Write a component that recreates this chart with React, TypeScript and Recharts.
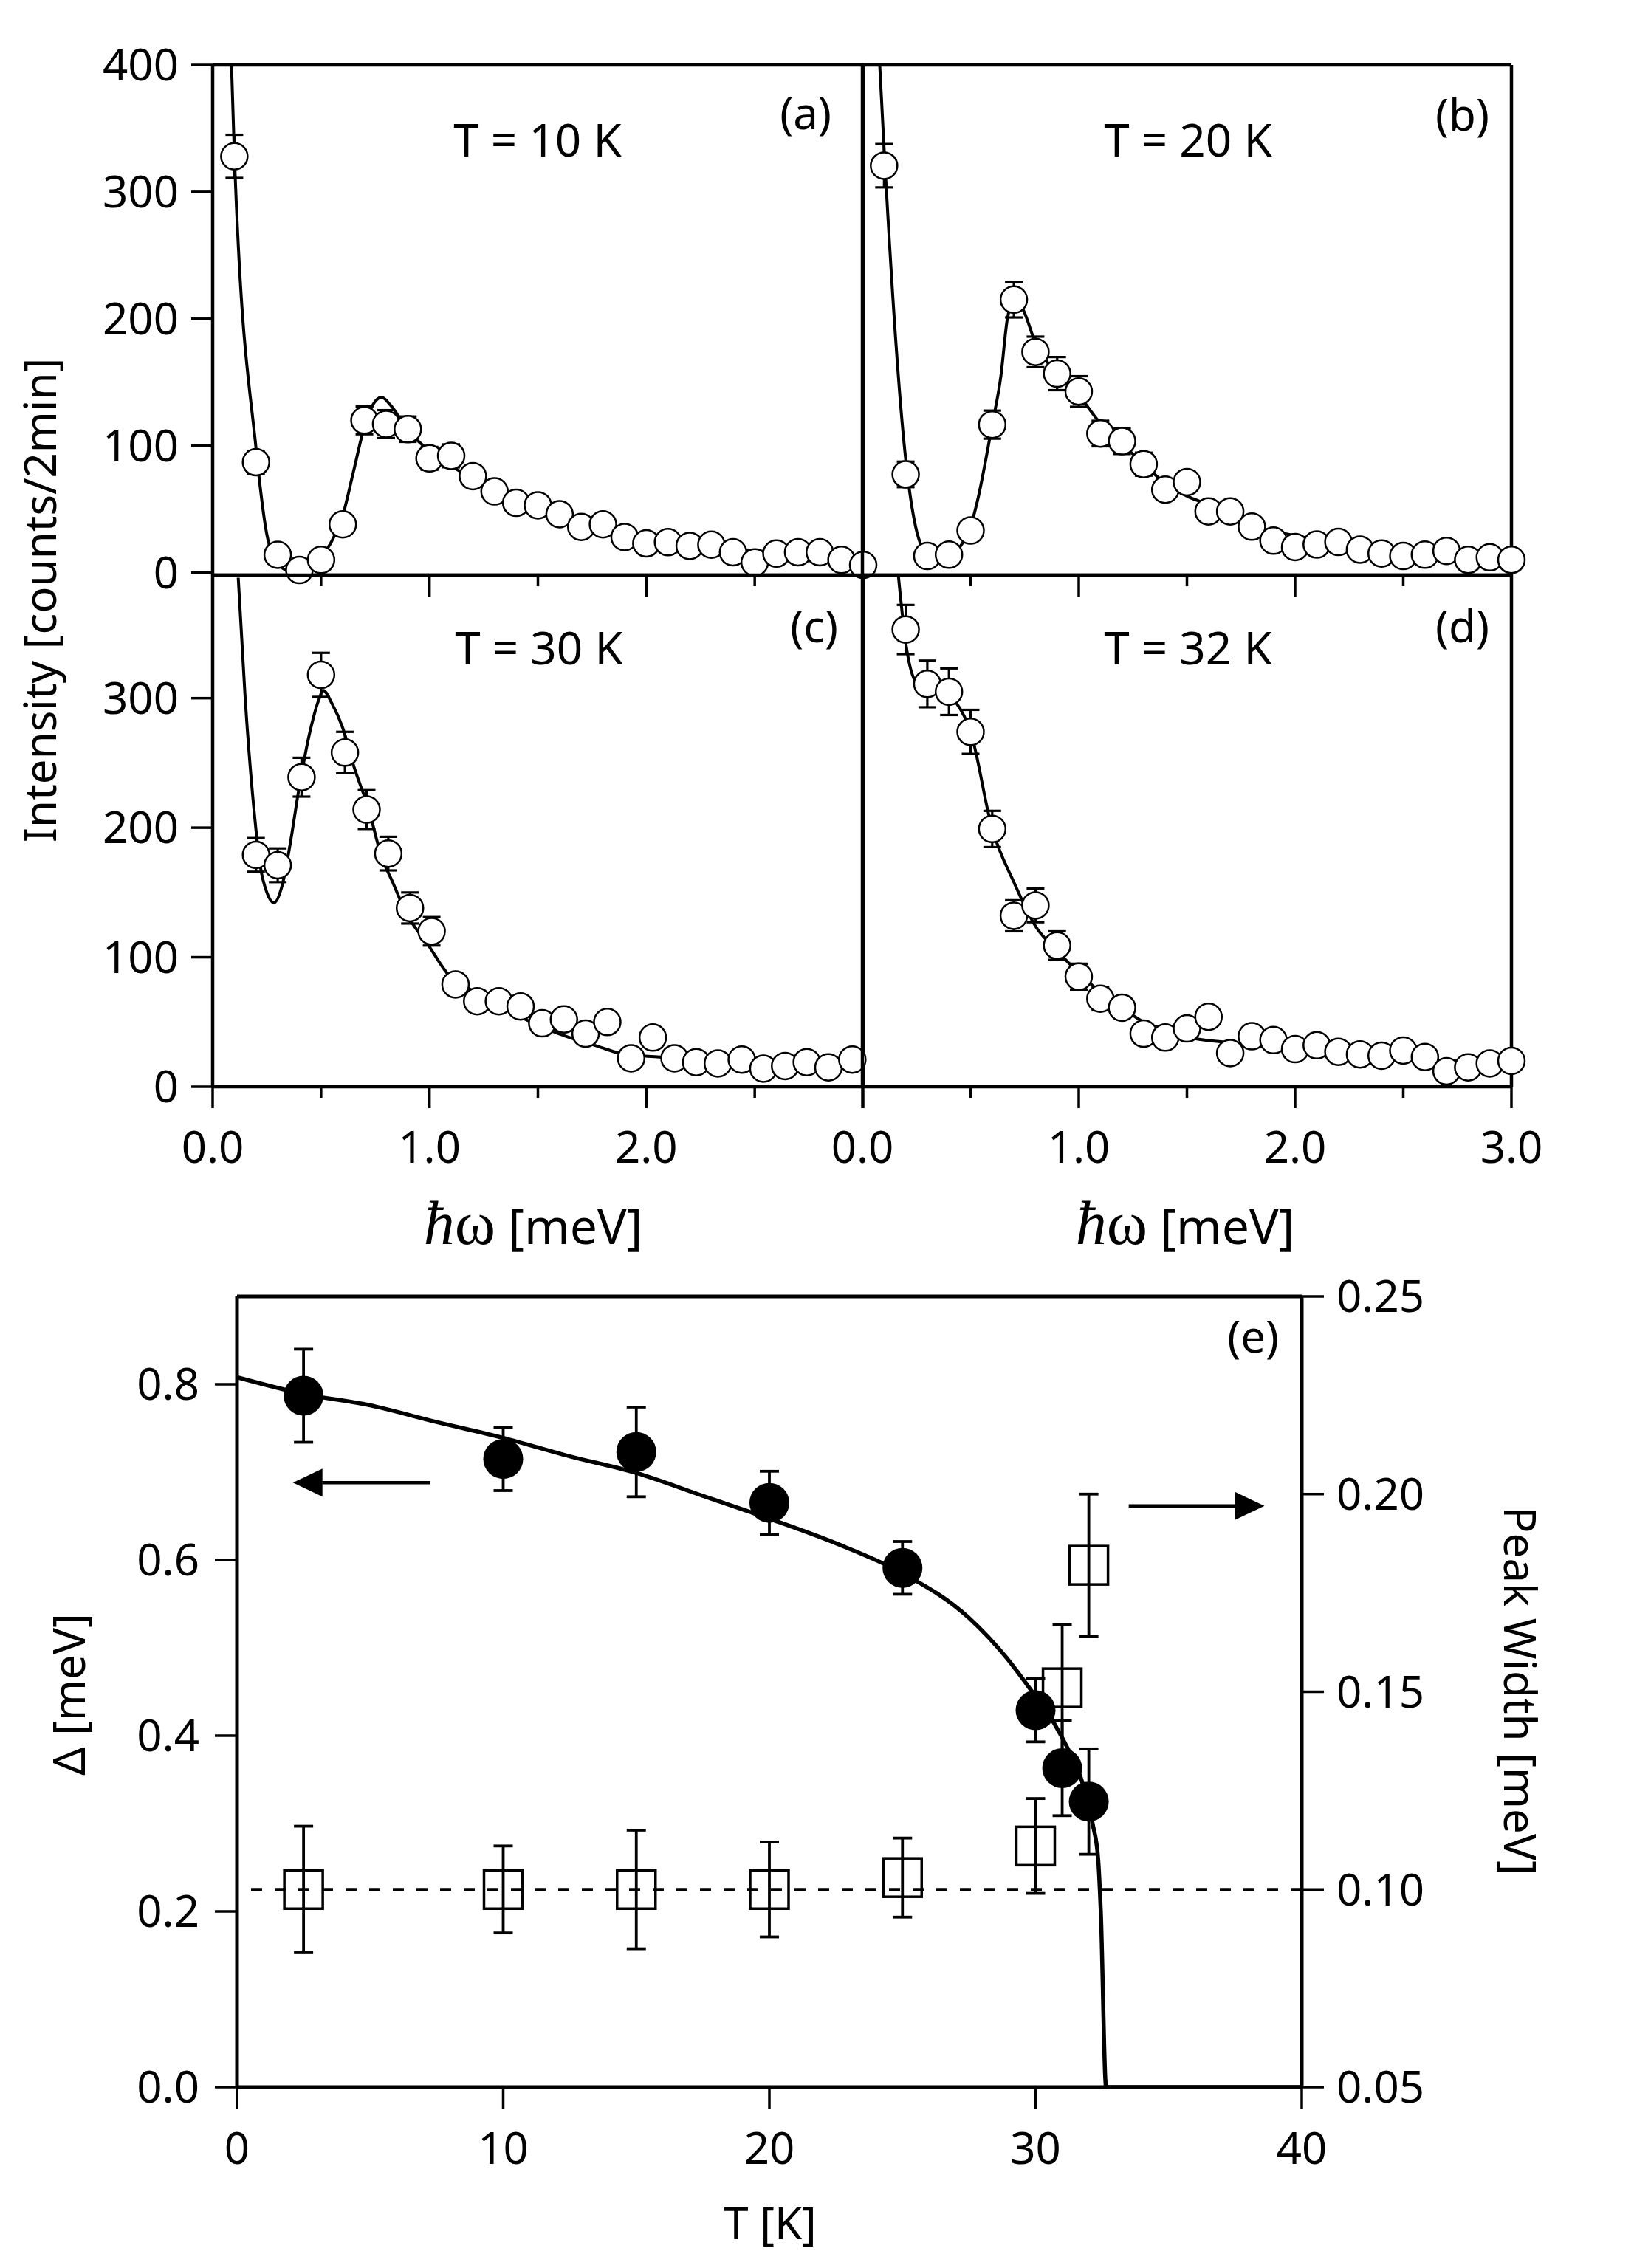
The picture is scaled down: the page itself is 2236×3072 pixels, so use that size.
import React from "react";
import {
  ComposedChart,
  Line,
  Scatter,
  XAxis,
  YAxis,
  ErrorBar,
  ReferenceLine,
  ReferenceDot,
} from "recharts";

const PAGE_W = 2236;
const PAGE_H = 3072;
const INK = "#000";
const SANS = "'Noto Sans', sans-serif";
const SERIF = "'Liberation Serif', serif";

// ---------- spectra (a)-(d): energy [meV], intensity [counts/2min] ----------
const energyA = [0.1, 0.2, 0.3, 0.4, 0.5, 0.6, 0.7, 0.8, 0.9, 1.0, 1.1, 1.2, 1.3, 1.4, 1.5, 1.6, 1.7, 1.8, 1.9, 2.0, 2.1, 2.2, 2.3, 2.4, 2.5, 2.6, 2.7, 2.8, 2.9, 3.0];
const countsA = [328, 87, 14, 2, 10, 38, 120, 117, 113, 90, 92, 76, 64, 55, 53, 46, 36, 38, 28, 23, 24, 21, 22, 16, 8, 15, 16, 16, 10, 6];
const errA = [17, 9, 5, 4, 5, 7, 11, 11, 10, 9, 9, 8, 7, 7, 7, 6, 6, 6, 5, 5, 5, 5, 5, 4, 4, 4, 4, 4, 4, 4];
const fitEnergyA = [0.087, 0.1, 0.2, 0.25, 0.3, 0.35, 0.4, 0.45, 0.5, 0.55, 0.6, 0.65, 0.7, 0.75, 0.78, 0.82, 0.9, 1.0, 1.1, 1.2, 1.3, 1.4, 1.5, 1.6, 1.8, 2.0, 2.2, 2.4, 2.6, 2.8, 3.0];
const fitCountsA = [400, 330, 98, 30, 8, 1, 0, 3, 12, 25, 45, 80, 115, 135, 138, 132, 112, 96, 84, 74, 65, 57, 50, 44, 35, 28, 23, 19, 16, 13, 11];

const energyB = [0.1, 0.2, 0.3, 0.4, 0.5, 0.6, 0.7, 0.8, 0.9, 1.0, 1.1, 1.2, 1.3, 1.4, 1.5, 1.6, 1.7, 1.8, 1.9, 2.0, 2.1, 2.2, 2.3, 2.4, 2.5, 2.6, 2.7, 2.8, 2.9, 3.0];
const countsB = [321, 79, 15, 16, 35, 118, 216, 175, 158, 144, 111, 105, 87, 67, 73, 50, 50, 38, 27, 22, 24, 26, 20, 17, 15, 16, 19, 12, 14, 12];
const errB = [17, 10, 5, 5, 7, 11, 14, 12, 13, 12, 10, 10, 9, 8, 8, 7, 7, 6, 6, 5, 5, 5, 5, 5, 4, 4, 4, 4, 4, 4];
const fitEnergyB = [0.08, 0.1, 0.2, 0.27, 0.33, 0.4, 0.45, 0.5, 0.53, 0.6, 0.64, 0.67, 0.7, 0.74, 0.8, 0.9, 1.0, 1.1, 1.2, 1.3, 1.4, 1.5, 1.6, 1.7, 1.8, 2.0, 2.2, 2.4, 2.6, 2.8, 3.0];
const fitCountsB = [400, 335, 91, 24, 12, 14, 22, 38, 57, 118, 156, 201, 215, 209, 182, 158, 141, 119, 103, 87, 72, 62, 55, 46, 39, 31, 25, 21, 18, 15, 13];

const energyC = [0.2, 0.3, 0.41, 0.5, 0.61, 0.71, 0.81, 0.91, 1.01, 1.12, 1.22, 1.32, 1.42, 1.52, 1.62, 1.72, 1.82, 1.93, 2.03, 2.13, 2.23, 2.33, 2.44, 2.54, 2.64, 2.74, 2.84, 2.95];
const countsC = [179, 171, 239, 318, 258, 214, 180, 138, 120, 79, 66, 66, 62, 49, 52, 41, 50, 22, 38, 22, 19, 18, 21, 14, 16, 19, 15, 21];
const errC = [13, 13, 15, 17, 16, 15, 13, 12, 11, 8, 8, 7, 7, 7, 7, 6, 6, 5, 6, 5, 5, 5, 5, 4, 4, 5, 4, 5];
const fitEnergyC = [0.118, 0.15, 0.19, 0.22, 0.25, 0.283, 0.32, 0.355, 0.4, 0.45, 0.49, 0.51, 0.55, 0.6, 0.65, 0.72, 0.78, 0.83, 0.89, 1.0, 1.09, 1.18, 1.37, 1.58, 1.78, 1.9, 2.06, 2.3, 2.6, 3.0];
const fitCountsC = [393, 300, 215, 170, 150, 142, 155, 185, 232, 275, 299, 306, 296, 277, 248, 214, 177, 158, 135, 108, 86, 76, 58, 42, 31, 25, 23, 20, 18, 16];

const energyD = [0.2, 0.3, 0.4, 0.5, 0.6, 0.7, 0.8, 0.9, 1.0, 1.1, 1.2, 1.3, 1.4, 1.5, 1.6, 1.7, 1.8, 1.9, 2.0, 2.1, 2.2, 2.3, 2.4, 2.5, 2.6, 2.7, 2.8, 2.9, 3.0];
const countsD = [353, 311, 305, 274, 199, 132, 140, 109, 85, 68, 61, 41, 38, 45, 54, 26, 39, 36, 29, 32, 27, 25, 24, 28, 23, 12, 15, 18, 20];
const errD = [19, 18, 18, 17, 14, 12, 13, 11, 10, 9, 8, 7, 7, 7, 7, 6, 6, 6, 5, 6, 5, 5, 5, 5, 5, 4, 4, 4, 4];
const fitEnergyD = [0.166, 0.2, 0.25, 0.3, 0.4, 0.435, 0.5, 0.6, 0.7, 0.8, 0.9, 1.0, 1.1, 1.2, 1.3, 1.4, 1.5, 1.7, 2.0, 2.5, 3.0];
const fitCountsD = [395, 343, 312, 308, 302, 296, 274, 199, 158, 124, 105, 88, 73, 61, 50, 44, 38.5, 34, 28, 22, 18];

const energyTicks = [0, 0.5, 1, 1.5, 2, 2.5, 3];
const countTicksTop = [0, 100, 200, 300, 400];
const countTicksBottom = [0, 100, 200, 300];
const innerTicks = [100, 200, 300];

// ---------- (e): gap and peak width vs temperature ----------
const tempGap = [2.5, 10, 15, 20, 25, 30, 31, 32];
const gap = [0.787, 0.715, 0.723, 0.665, 0.591, 0.429, 0.363, 0.325];
const gapErr = [0.053, 0.036, 0.051, 0.036, 0.03, 0.036, 0.054, 0.06];

const tempWidth = [2.5, 10, 15, 20, 25, 30, 31, 32];
const peakWidth = [0.1, 0.1, 0.1, 0.1, 0.103, 0.111, 0.151, 0.182];
const peakWidthErr = [0.016, 0.011, 0.015, 0.012, 0.01, 0.012, 0.016, 0.018];

const fitTemp = [0, 2.5, 5, 7.5, 10, 12.5, 15, 17.5, 20, 22.5, 25, 27.5, 28.9, 29.8, 30.7, 31.2, 31.7, 32.15, 32.35, 32.45, 32.65, 40];
const fitGap = [0.808, 0.789, 0.776, 0.757, 0.739, 0.718, 0.699, 0.673, 0.647, 0.619, 0.585, 0.534, 0.489, 0.453, 0.414, 0.386, 0.352, 0.299, 0.26, 0.2, 0, 0];

const baseWidth = 0.1;
const tempTicks = [0, 10, 20, 30, 40];
const gapTicks = [0, 0.2, 0.4, 0.6, 0.8];
const widthTicks = [0.05, 0.1, 0.15, 0.2, 0.25];

const toPts = (xs: number[], ys: number[], es: number[]) =>
  xs.map((x, i) => ({ x, y: ys[i], err: es[i] }));
const toLine = (xs: number[], ys: number[]) => xs.map((x, i) => ({ x, y: ys[i] }));

// ---------- tick renderers ----------
const LeftTick = (props: any) => {
  const { x, y, payload } = props;
  return (
    <g>
      <line x1={x} y1={y} x2={x - 29} y2={y} stroke={INK} strokeWidth={3.5} />
      <text x={x - 46} y={y + 21} textAnchor="end" fontSize={60} fontFamily={SANS} fill={INK}>
        {payload.value}
      </text>
    </g>
  );
};

const InwardTick = (props: any) => {
  const { x, y } = props;
  return <line x1={x} y1={y} x2={x - 30} y2={y} stroke={INK} strokeWidth={3.5} />;
};

const makeBottomTick = (labels: number[]) => (props: any) => {
  const { x, y, payload } = props;
  const v = payload.value as number;
  const major = Number.isInteger(v);
  return (
    <g>
      <line x1={x} y1={y} x2={x} y2={y + (major ? 29 : 15)} stroke={INK} strokeWidth={3.5} />
      {labels.includes(v) && (
        <text x={x} y={y + 103} textAnchor="middle" fontSize={60} fontFamily={SANS} fill={INK}>
          {v.toFixed(1)}
        </text>
      )}
    </g>
  );
};

const OpenCircle = (p: any) => (
  <circle cx={p.cx} cy={p.cy} r={18} fill="#fff" stroke={INK} strokeWidth={2.5} />
);
const FilledCircle = (p: any) => <circle cx={p.cx} cy={p.cy} r={27} fill={INK} />;
const OpenSquare = (p: any) => (
  <rect x={p.cx - 26} y={p.cy - 26} width={52} height={52} fill="none" stroke={INK} strokeWidth={3.5} />
);

type Box = { left: number; right: number; top: number; bottom: number };

interface PanelProps {
  box: Box;
  pts: { x: number; y: number; err: number }[];
  fit: { x: number; y: number }[];
  yMax: number;
  leftTicks: number[] | null;
  xLabels: number[];
}

const AX_W = 200;
const AX_H = 120;

function SpectrumPanel({ box, pts, fit, yMax, leftTicks, xLabels }: PanelProps) {
  const margin = {
    left: box.left - AX_W,
    top: box.top,
    right: PAGE_W - box.right - AX_W,
    bottom: PAGE_H - box.bottom - AX_H,
  };
  const isLeft = leftTicks !== null;
  return (
    <div style={{ position: "absolute", left: 0, top: 0 }}>
      <ComposedChart width={PAGE_W} height={PAGE_H} margin={margin}>
        <XAxis
          dataKey="x"
          type="number"
          domain={[0, 3]}
          ticks={energyTicks}
          interval={0}
          height={AX_H}
          tickSize={0}
          tickMargin={0}
          tickLine={false}
          axisLine={{ stroke: INK, strokeWidth: 4.5 }}
          tick={makeBottomTick(xLabels)}
        />
        <YAxis
          yAxisId="l"
          type="number"
          domain={[0, yMax]}
          ticks={isLeft ? leftTicks : innerTicks}
          interval={0}
          width={AX_W}
          tickSize={0}
          tickMargin={0}
          tickLine={false}
          axisLine={{ stroke: INK, strokeWidth: 4.5 }}
          tick={isLeft ? LeftTick : false}
        />
        <YAxis
          yAxisId="r"
          orientation="right"
          type="number"
          domain={[0, yMax]}
          ticks={innerTicks}
          interval={0}
          width={AX_W}
          tickSize={0}
          tickMargin={0}
          tickLine={false}
          axisLine={{ stroke: INK, strokeWidth: 4.5 }}
          tick={isLeft ? InwardTick : false}
        />
        <ReferenceLine yAxisId="l" y={yMax} stroke={INK} strokeWidth={4.5} />
        <Line
          yAxisId="l"
          data={fit}
          dataKey="y"
          type="monotone"
          dot={false}
          stroke={INK}
          strokeWidth={4}
          isAnimationActive={false}
        />
        <Scatter yAxisId="l" data={pts} dataKey="y" shape={OpenCircle} isAnimationActive={false}>
          <ErrorBar dataKey="err" direction="y" width={12} stroke={INK} strokeWidth={3.2} />
        </Scatter>
      </ComposedChart>
    </div>
  );
}

function GapPanel() {
  const box = { left: 321, right: 1763, top: 1756, bottom: 2827 };
  const margin = {
    left: box.left - AX_W,
    top: box.top,
    right: PAGE_W - box.right - AX_W,
    bottom: PAGE_H - box.bottom - 150,
  };
  const tickFont = { fill: INK, fontSize: 60, fontFamily: SANS };
  return (
    <div style={{ position: "absolute", left: 0, top: 0 }}>
      <ComposedChart width={PAGE_W} height={PAGE_H} margin={margin}>
        <XAxis
          dataKey="x"
          type="number"
          domain={[0, 40]}
          ticks={tempTicks}
          interval={0}
          height={150}
          tickSize={29}
          tickMargin={32}
          tickLine={{ stroke: INK, strokeWidth: 3.5 }}
          axisLine={{ stroke: INK, strokeWidth: 5 }}
          tick={tickFont}
        />
        <YAxis
          yAxisId="l"
          type="number"
          domain={[0, 0.9]}
          ticks={gapTicks}
          interval={0}
          width={AX_W}
          tickSize={30}
          tickMargin={21}
          tickLine={{ stroke: INK, strokeWidth: 3.5 }}
          axisLine={{ stroke: INK, strokeWidth: 5 }}
          tick={tickFont}
          tickFormatter={(v: number) => v.toFixed(1)}
        />
        <YAxis
          yAxisId="r"
          orientation="right"
          type="number"
          domain={[0.05, 0.25]}
          ticks={widthTicks}
          interval={0}
          width={AX_W}
          tickSize={30}
          tickMargin={17}
          tickLine={{ stroke: INK, strokeWidth: 3.5 }}
          axisLine={{ stroke: INK, strokeWidth: 5 }}
          tick={tickFont}
          tickFormatter={(v: number) => v.toFixed(2)}
        />
        <ReferenceLine yAxisId="l" y={0.9} stroke={INK} strokeWidth={5} />
        <ReferenceLine yAxisId="r" y={baseWidth} stroke={INK} strokeWidth={4} strokeDasharray="15 17" />
        <ReferenceLine
          yAxisId="l"
          segment={[{ x: 7.26, y: 0.688 }, { x: 3.2, y: 0.688 }]}
          stroke={INK}
          strokeWidth={4.5}
        />
        <ReferenceDot
          yAxisId="l"
          x={2.1}
          y={0.688}
          shape={(p: any) => <path d={`M${p.cx},${p.cy} l40,-19 l0,38 z`} fill={INK} />}
        />
        <ReferenceLine
          yAxisId="r"
          segment={[{ x: 33.5, y: 0.197 }, { x: 37.6, y: 0.197 }]}
          stroke={INK}
          strokeWidth={4.5}
        />
        <ReferenceDot
          yAxisId="r"
          x={38.6}
          y={0.197}
          shape={(p: any) => <path d={`M${p.cx},${p.cy} l-40,-19 l0,38 z`} fill={INK} />}
        />
        <Scatter
          yAxisId="r"
          data={toPts(tempWidth, peakWidth, peakWidthErr)}
          dataKey="y"
          shape={OpenSquare}
          isAnimationActive={false}
        >
          <ErrorBar dataKey="err" direction="y" width={13} stroke={INK} strokeWidth={3.8} />
        </Scatter>
        <Line
          yAxisId="l"
          data={toLine(fitTemp, fitGap)}
          dataKey="y"
          type="monotone"
          dot={false}
          stroke={INK}
          strokeWidth={5.5}
          isAnimationActive={false}
        />
        <Scatter
          yAxisId="l"
          data={toPts(tempGap, gap, gapErr)}
          dataKey="y"
          shape={FilledCircle}
          isAnimationActive={false}
        >
          <ErrorBar dataKey="err" direction="y" width={13} stroke={INK} strokeWidth={3.8} />
        </Scatter>
      </ComposedChart>
    </div>
  );
}

function Texts() {
  const hbar = (x: number) => (
    <text x={x} y={1685} textAnchor="middle" fontSize={66} fontFamily={SANS} fill={INK}>
      <tspan fontFamily={SERIF} fontStyle="italic" fontSize={84}>ħ</tspan>
      <tspan fontFamily={SERIF} fontSize={84}>ω</tspan>
      <tspan> [meV]</tspan>
    </text>
  );
  return (
    <svg
      width={PAGE_W}
      height={PAGE_H}
      style={{ position: "absolute", left: 0, top: 0, pointerEvents: "none" }}
      fontFamily={SANS}
      fontSize={60}
      fill={INK}
    >
      <text x={728} y={212} textAnchor="middle" fontSize={62}>T = 10 K</text>
      <text x={1609} y={212} textAnchor="middle" fontSize={62}>T = 20 K</text>
      <text x={730} y={900} textAnchor="middle" fontSize={62}>T = 30 K</text>
      <text x={1609} y={900} textAnchor="middle" fontSize={62}>T = 32 K</text>
      <text x={1126} y={175} textAnchor="end">(a)</text>
      <text x={2017} y={177} textAnchor="end">(b)</text>
      <text x={1135} y={870} textAnchor="end">(c)</text>
      <text x={2017} y={870} textAnchor="end">(d)</text>
      <text x={1732} y={1832} textAnchor="end">(e)</text>
      {hbar(722)}
      {hbar(1605)}
      <text x={76} y={813} textAnchor="middle" transform="rotate(-90 76 813)">
        Intensity [counts/2min]
      </text>
      <text x={115} y={2295} textAnchor="middle" transform="rotate(-90 115 2295)">
        Δ [meV]
      </text>
      <text x={2037} y={2290} textAnchor="middle" transform="rotate(90 2037 2290)">
        Peak Width [meV]
      </text>
      <text x={1043} y={3033} textAnchor="middle">T [K]</text>
    </svg>
  );
}

export default function App() {
  return (
    <div
      style={{
        position: "absolute",
        left: 0,
        top: 0,
        width: PAGE_W,
        height: PAGE_H,
        background: "#fff",
        overflow: "hidden",
      }}
    >
      <SpectrumPanel
        box={{ left: 288, right: 1169, top: 88, bottom: 779 }}
        pts={toPts(energyA, countsA, errA)}
        fit={toLine(fitEnergyA, fitCountsA)}
        yMax={400}
        leftTicks={countTicksTop}
        xLabels={[]}
      />
      <SpectrumPanel
        box={{ left: 1168, right: 2047, top: 88, bottom: 779 }}
        pts={toPts(energyB, countsB, errB)}
        fit={toLine(fitEnergyB, fitCountsB)}
        yMax={400}
        leftTicks={null}
        xLabels={[]}
      />
      <SpectrumPanel
        box={{ left: 288, right: 1169, top: 779, bottom: 1472 }}
        pts={toPts(energyC, countsC, errC)}
        fit={toLine(fitEnergyC, fitCountsC)}
        yMax={395}
        leftTicks={countTicksBottom}
        xLabels={[0, 1, 2]}
      />
      <SpectrumPanel
        box={{ left: 1168, right: 2047, top: 779, bottom: 1472 }}
        pts={toPts(energyD, countsD, errD)}
        fit={toLine(fitEnergyD, fitCountsD)}
        yMax={395}
        leftTicks={null}
        xLabels={[0, 1, 2, 3]}
      />
      <GapPanel />
      <Texts />
    </div>
  );
}
